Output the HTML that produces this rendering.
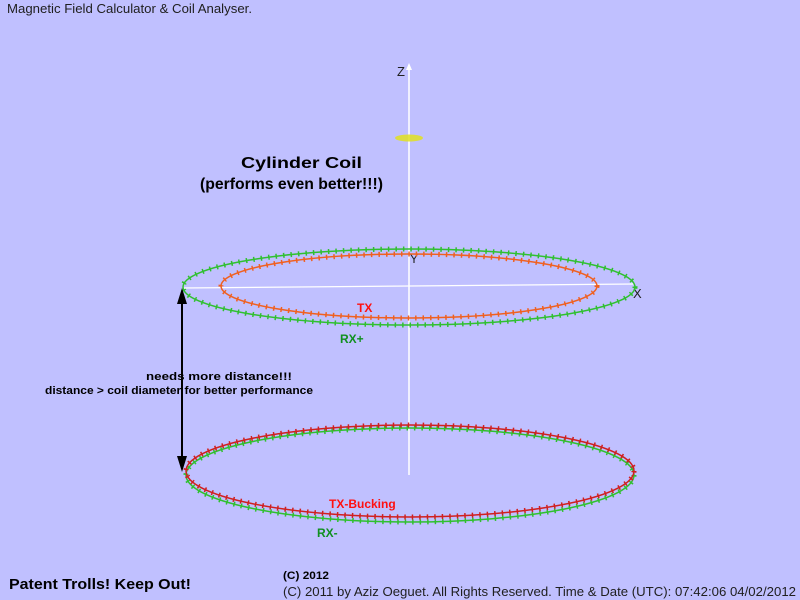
<!DOCTYPE html>
<html><head><meta charset="utf-8"><style>
html,body{margin:0;padding:0;background:#c0c0ff;}
svg{display:block;}
text{font-family:"Liberation Sans",Arial,sans-serif;}
</style></head><body>
<svg width="800" height="600" viewBox="0 0 800 600" xmlns="http://www.w3.org/2000/svg">
<rect width="800" height="600" fill="#c0c0ff"/>
<text x="7" y="13" font-size="13" fill="#202020" textLength="245" lengthAdjust="spacingAndGlyphs">Magnetic Field Calculator &amp; Coil Analyser.</text>
<!-- axes -->
<line x1="409" y1="65" x2="409" y2="475" stroke="#fff" stroke-width="1.5"/>
<path d="M406,70 L409,63 L412,70 Z" fill="#fff"/>
<line x1="183" y1="288" x2="635" y2="284" stroke="#fff" stroke-width="1.2"/>
<text x="397" y="76" font-size="13" fill="#202020">Z</text>
<text x="633" y="298" font-size="13" fill="#202020">X</text>
<text x="410" y="263" font-size="12" fill="#202020">Y</text>
<ellipse cx="409" cy="138" rx="14" ry="3.5" fill="#e0e020" opacity="0.85"/>
<text x="241" y="168" font-size="16" font-weight="bold" fill="#000" textLength="121" lengthAdjust="spacingAndGlyphs">Cylinder Coil</text>
<text x="200" y="189" font-size="16" font-weight="bold" fill="#000" textLength="183" lengthAdjust="spacingAndGlyphs">(performs even better!!!)</text>
<!-- top coils -->
<ellipse cx="409" cy="287" rx="226" ry="38" fill="none" stroke="#30c030" stroke-width="1.5"/>
<ellipse cx="409" cy="287" rx="226" ry="38" fill="none" stroke="#30c030" stroke-width="5" stroke-dasharray="1.5 6"/>
<ellipse cx="409" cy="286" rx="188" ry="32" fill="none" stroke="#f06020" stroke-width="1.5"/>
<ellipse cx="409" cy="286" rx="188" ry="32" fill="none" stroke="#f06020" stroke-width="5" stroke-dasharray="1.5 6"/>
<text x="357" y="312" font-size="12" font-weight="bold" fill="#ff1010">TX</text>
<text x="340" y="343" font-size="12" font-weight="bold" fill="#109020">RX+</text>
<!-- bottom coils -->
<ellipse cx="410" cy="475" rx="224" ry="47" fill="none" stroke="#30c030" stroke-width="1.5"/>
<ellipse cx="410" cy="475" rx="224" ry="47" fill="none" stroke="#30c030" stroke-width="5" stroke-dasharray="1.5 6"/>
<ellipse cx="410" cy="471" rx="224" ry="46" fill="none" stroke="#d02020" stroke-width="1.5"/>
<ellipse cx="410" cy="471" rx="224" ry="46" fill="none" stroke="#d02020" stroke-width="5" stroke-dasharray="1.5 6"/>
<text x="329" y="508" font-size="12" font-weight="bold" fill="#ff1010">TX-Bucking</text>
<text x="317" y="537" font-size="12" font-weight="bold" fill="#109020">RX-</text>
<!-- distance arrow -->
<line x1="182" y1="300" x2="182" y2="460" stroke="#000" stroke-width="2"/>
<path d="M177,304 L182,288 L187,304 Z" fill="#000"/>
<path d="M177,456 L182,472 L187,456 Z" fill="#000"/>
<text x="146" y="380" font-size="11" font-weight="bold" fill="#000" textLength="146" lengthAdjust="spacingAndGlyphs">needs more distance!!!</text>
<text x="45" y="394" font-size="11" font-weight="bold" fill="#000" textLength="268" lengthAdjust="spacingAndGlyphs">distance &gt; coil diameter for better performance</text>
<!-- footer -->
<text x="9" y="589" font-size="15" font-weight="bold" fill="#000" textLength="182" lengthAdjust="spacingAndGlyphs">Patent Trolls! Keep Out!</text>
<text x="283" y="579" font-size="11" font-weight="bold" fill="#000" textLength="46" lengthAdjust="spacingAndGlyphs">(C) 2012</text>
<text x="283" y="596" font-size="13" fill="#202020" textLength="513" lengthAdjust="spacingAndGlyphs">(C) 2011 by Aziz Oeguet. All Rights Reserved.  Time &amp; Date (UTC): 07:42:06  04/02/2012</text>
</svg>
</body></html>
